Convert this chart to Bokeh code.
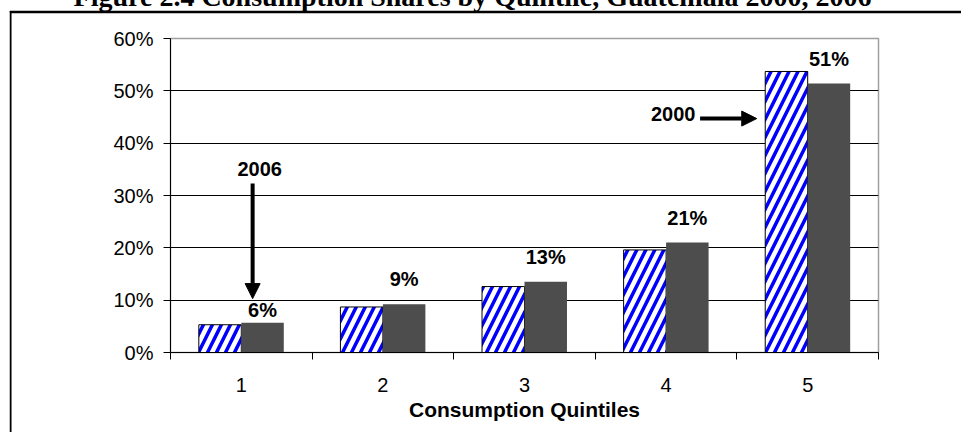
import numpy as np
from bokeh.plotting import figure
from bokeh.models import (Range1d, FixedTicker, NumeralTickFormatter, Arrow, NormalHead, Label)
from bokeh.core.properties import value
from bokeh.embed import file_html
from bokeh.resources import INLINE

# ---- data ----
categories = ["1", "2", "3", "4", "5"]
share_2000 = [0.053, 0.087, 0.126, 0.196, 0.537]
share_2006 = [0.057, 0.092, 0.135, 0.210, 0.514]
labels_2006 = ["6%", "9%", "13%", "21%", "51%"]
yticks = [0.0, 0.1, 0.2, 0.3, 0.4, 0.5, 0.6]
title_text = "Figure 2.4 Consumption Shares by Quintile, Guatemala 2000, 2006"
x_title = "Consumption Quintiles"

# ---- styles ----
label_dy = [-13, -25, -25, -25, -25]
FONT = "Liberation Sans"

xs = np.arange(len(categories)) + 1.0

p = figure(width=961, height=432, output_backend="svg", toolbar_location=None,
           x_range=Range1d(0.5, len(categories) + 0.5), y_range=Range1d(0, 0.6),
           min_border_left=170, min_border_right=83, min_border_top=38, min_border_bottom=80)
p.background_fill_color = "white"
p.border_fill_color = "white"
p.outline_line_color = "#a0a0a0"
p.outline_line_width = 1.5

# grid
p.xgrid.grid_line_color = None
p.ygrid.grid_line_color = "black"
p.ygrid.grid_line_width = 1
p.ygrid.ticker = FixedTicker(ticks=yticks)

# y axis
p.yaxis.ticker = FixedTicker(ticks=yticks)
p.yaxis.formatter = NumeralTickFormatter(format="0%")
p.yaxis.major_label_text_font = FONT
p.yaxis.major_label_text_font_size = "20px"
p.yaxis.major_label_text_color = "black"
p.yaxis.major_tick_out = 7
p.yaxis.major_tick_in = 0
p.yaxis.minor_tick_line_color = None
p.yaxis.major_label_standoff = 10
p.yaxis.axis_line_color = "black"
p.yaxis.major_tick_line_color = "black"

# x axis
bounds = list(xs - 0.5) + [xs[-1] + 0.5]
p.xaxis.ticker = FixedTicker(ticks=list(xs), minor_ticks=bounds)
p.xaxis.major_label_overrides = {float(x): c for x, c in zip(xs, categories)}
p.xaxis.major_tick_out = 0
p.xaxis.major_tick_in = 0
p.xaxis.minor_tick_out = 7
p.xaxis.minor_tick_in = 0
p.xaxis.minor_tick_line_color = "black"
p.xaxis.major_label_text_font = FONT
p.xaxis.major_label_text_font_size = "20px"
p.xaxis.major_label_text_color = "black"
p.xaxis.major_label_standoff = 18
p.xaxis.axis_line_color = "black"
p.xaxis.axis_label = x_title
p.xaxis.axis_label_text_font = FONT
p.xaxis.axis_label_text_font_size = "21px"
p.xaxis.axis_label_text_font_style = "bold"
p.xaxis.axis_label_text_color = "black"
p.xaxis.axis_label_standoff = 3

# bars
p.vbar(x=xs - 0.15, top=share_2000, width=0.3, bottom=0,
       fill_color="white", line_color="black", line_width=1,
       hatch_pattern="/", hatch_color="#0000ff", hatch_weight=3.5, hatch_scale=18)
p.vbar(x=xs + 0.15, top=share_2006, width=0.3, bottom=0,
       fill_color="#4d4d4d", line_color=None)

p.text(x=xs + 0.15, y=share_2006, text=labels_2006, y_offset=label_dy,
       text_align="center", text_baseline="alphabetic",
       text_font=value(FONT), text_font_style="bold", text_font_size="20px",
       text_color="black")

# annotations: 2006 arrow (pointing to quintile 1) and 2000 arrow (pointing to quintile 5)
p.add_layout(Label(x=xs[0] + 0.13, y=0.351, text="2006", text_align="center",
                   text_baseline="alphabetic", text_font=FONT, text_font_style="bold",
                   text_font_size="20px", text_color="black"))
p.add_layout(Arrow(x_start=xs[0] + 0.08, y_start=0.323, x_end=xs[0] + 0.08, y_end=0.103,
                   line_width=4, line_color="black",
                   end=NormalHead(size=15, fill_color="black", line_color="black")))
p.add_layout(Label(x=xs[4] - 0.95, y=0.456, text="2000", text_align="center",
                   text_baseline="alphabetic", text_font=FONT, text_font_style="bold",
                   text_font_size="20px", text_color="black"))
p.add_layout(Arrow(x_start=xs[4] - 0.76, y_start=0.447, x_end=xs[4] - 0.36, y_end=0.447,
                   line_width=4, line_color="black",
                   end=NormalHead(size=15, fill_color="black", line_color="black")))

# outer frame of the figure box: its top edge (in the "above" panel) and its
# left edge (in the "left" panel), so that they are not clipped to the plot frame
p.add_layout(Label(x=10, y=11, x_units="canvas", y_units="canvas", text="\u00a0",
                   text_align="left", text_baseline="top", text_font_size="1px",
                   padding=(0, 1500, 0, 0), border_line_color="black",
                   border_line_width=1.5, background_fill_color=None), "above")
p.add_layout(Label(x=10, y=11, x_units="canvas", y_units="canvas", text="\u00a0",
                   text_align="left", text_baseline="top", text_font_size="1px",
                   padding=(0, 0, 1500, 0), border_line_color="black",
                   border_line_width=1.5, background_fill_color=None), "left")
# the title above the box, cut at the top of the picture
p.add_layout(Label(x=472, y=-4, x_units="canvas", y_units="canvas", text=title_text,
                   text_align="center", text_baseline="alphabetic",
                   text_font="Liberation Serif", text_font_style="bold",
                   text_font_size="28px", text_color="black"), "above")

open("out.html", "w").write(file_html(p, INLINE))
